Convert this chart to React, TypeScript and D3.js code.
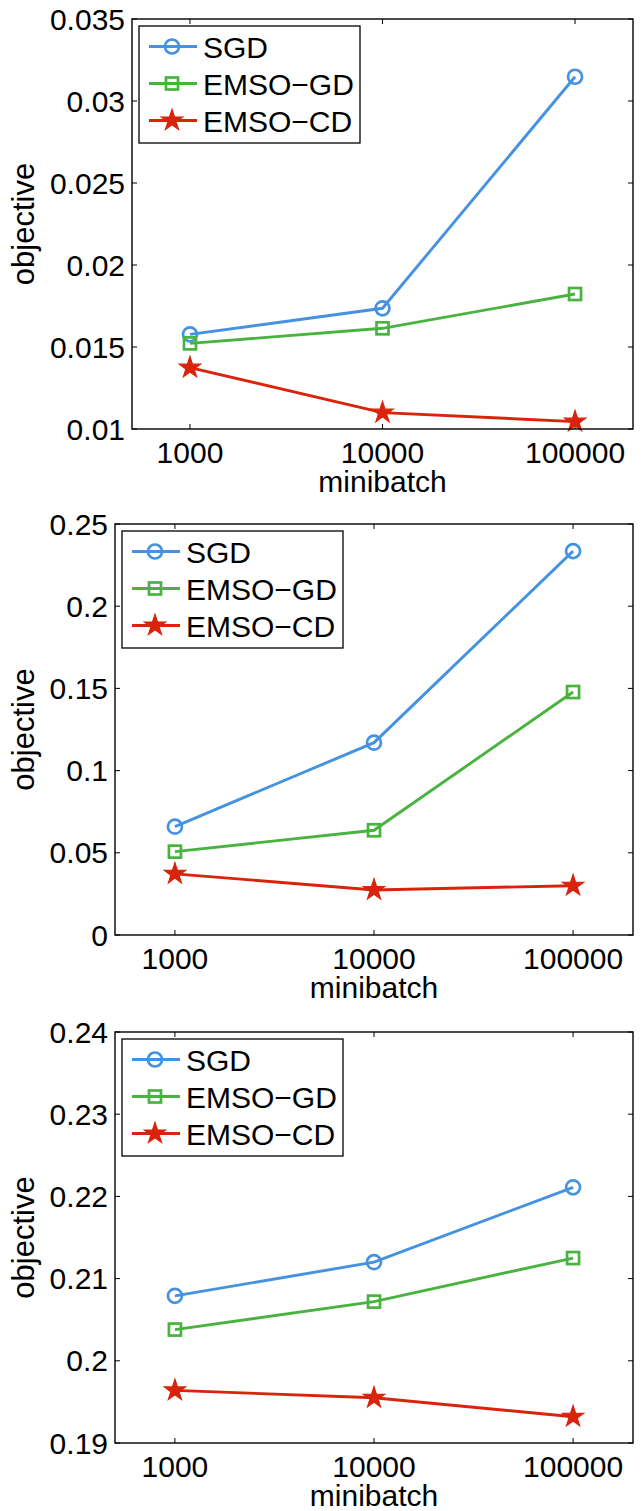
import React from "react";
import * as d3 from "d3";

const minibatch = [1000, 10000, 100000];
const xTickLabels = ["1000", "10000", "100000"];
const seriesNames = ["SGD", "EMSO\u2212GD", "EMSO\u2212CD"];

const p1SGD = [0.01577, 0.01736, 0.03148];
const p1GD = [0.01522, 0.01614, 0.01823];
const p1CD = [0.01374, 0.0110, 0.01045];
const p1Ticks = [0.01, 0.015, 0.02, 0.025, 0.03, 0.035];
const p1TickLabels = ["0.01", "0.015", "0.02", "0.025", "0.03", "0.035"];

const p2SGD = [0.0659, 0.117, 0.2335];
const p2GD = [0.0507, 0.0637, 0.1478];
const p2CD = [0.0372, 0.0274, 0.0300];
const p2Ticks = [0, 0.05, 0.1, 0.15, 0.2, 0.25];
const p2TickLabels = ["0", "0.05", "0.1", "0.15", "0.2", "0.25"];

const p3SGD = [0.2079, 0.2120, 0.2211];
const p3GD = [0.2038, 0.2072, 0.2125];
const p3CD = [0.1964, 0.1955, 0.1932];
const p3Ticks = [0.19, 0.2, 0.21, 0.22, 0.23, 0.24];
const p3TickLabels = ["0.19", "0.2", "0.21", "0.22", "0.23", "0.24"];

const COLORS = ["#4592E0", "#48B43F", "#D9230B"];
const FONT = "'Liberation Sans', Arial, Helvetica, sans-serif";
const FS = 30;

type PanelProps = {
  left: number; right: number; top: number; bottom: number;
  series: number[][]; ticks: number[]; tickLabels: string[];
};

function Marker({ kind, x, y, color }: { kind: number; x: number; y: number; color: string }) {
  if (kind === 0) {
    return <circle cx={x} cy={y} r={7} fill="none" stroke={color} strokeWidth={2.7} />;
  }
  if (kind === 1) {
    return <rect x={x - 6} y={y - 6} width={12} height={12} fill="none" stroke={color} strokeWidth={2.7} />;
  }
  const star = d3.symbol().type(d3.symbolStar).size(140)();
  return <path d={star || ""} transform={`translate(${x},${y})`} fill={color} stroke={color} strokeWidth={1.2} strokeLinejoin="miter" />;
}

function Panel({ left, right, top, bottom, series, ticks, tickLabels }: PanelProps) {
  const x = d3.scaleLog().domain([500, 200000]).range([left, right]);
  const y = d3.scaleLinear().domain([ticks[0], ticks[ticks.length - 1]]).range([bottom, top]);
  const line = d3.line<number>().x((_, i) => x(minibatch[i])).y((d) => y(d));
  const tl = 5;
  const lgX = left + 7;
  const lgY = top + 7;
  const cx = (left + right) / 2;
  const cy = (top + bottom) / 2;
  return (
    <g>
      {minibatch.map((m, i) => (
        <g key={"xt" + i}>
          <line x1={x(m)} x2={x(m)} y1={bottom} y2={bottom - tl} stroke="#000" strokeWidth={1} />
          <line x1={x(m)} x2={x(m)} y1={top} y2={top + tl} stroke="#000" strokeWidth={1} />
          <text x={x(m)} y={bottom + 34} textAnchor="middle" fontFamily={FONT} fontSize={FS}>{xTickLabels[i]}</text>
        </g>
      ))}
      {ticks.map((t, i) => (
        <g key={"yt" + i}>
          <line x1={left} x2={left + tl} y1={y(t)} y2={y(t)} stroke="#000" strokeWidth={1} />
          <line x1={right} x2={right - tl} y1={y(t)} y2={y(t)} stroke="#000" strokeWidth={1} />
          <text x={left - 7} y={y(t) + 10.5} textAnchor="end" fontFamily={FONT} fontSize={FS}>{tickLabels[i]}</text>
        </g>
      ))}
      {series.map((s, k) => (
        <g key={"s" + k}>
          <path d={line(s) || ""} fill="none" stroke={COLORS[k]} strokeWidth={2.9} />
          {s.map((v, i) => (
            <Marker key={i} kind={k} x={x(minibatch[i])} y={y(v)} color={COLORS[k]} />
          ))}
        </g>
      ))}
      <rect x={left} y={top} width={right - left} height={bottom - top} fill="none" stroke="#000" strokeWidth={1.4} />
      <rect x={lgX} y={lgY} width={221} height={117} fill="#fff" stroke="#000" strokeWidth={1.3} />
      {seriesNames.map((n, k) => {
        const ry = lgY + 20.5 + k * 37;
        return (
          <g key={"lg" + k}>
            <line x1={lgX + 10} x2={lgX + 58} y1={ry} y2={ry} stroke={COLORS[k]} strokeWidth={2.9} />
            <Marker kind={k} x={lgX + 33} y={ry} color={COLORS[k]} />
            <text x={lgX + 64} y={ry + 11} fontFamily={FONT} fontSize={FS}>{n}</text>
          </g>
        );
      })}
      <text x={cx} y={bottom + 63} textAnchor="middle" fontFamily={FONT} fontSize={FS}>minibatch</text>
      <text transform={`translate(34,${cy}) rotate(-90)`} textAnchor="middle" fontFamily={FONT} fontSize={31}>objective</text>
    </g>
  );
}

export default function App() {
  return (
    <svg width={642} height={1511} style={{ position: "absolute", left: 0, top: 0, background: "#fff" }}>
      <rect width={642} height={1511} fill="#fff" />
      <Panel left={132} right={633} top={19} bottom={429} series={[p1SGD, p1GD, p1CD]} ticks={p1Ticks} tickLabels={p1TickLabels} />
      <Panel left={115} right={633} top={524} bottom={935} series={[p2SGD, p2GD, p2CD]} ticks={p2Ticks} tickLabels={p2TickLabels} />
      <Panel left={115} right={633} top={1032} bottom={1443} series={[p3SGD, p3GD, p3CD]} ticks={p3Ticks} tickLabels={p3TickLabels} />
    </svg>
  );
}
